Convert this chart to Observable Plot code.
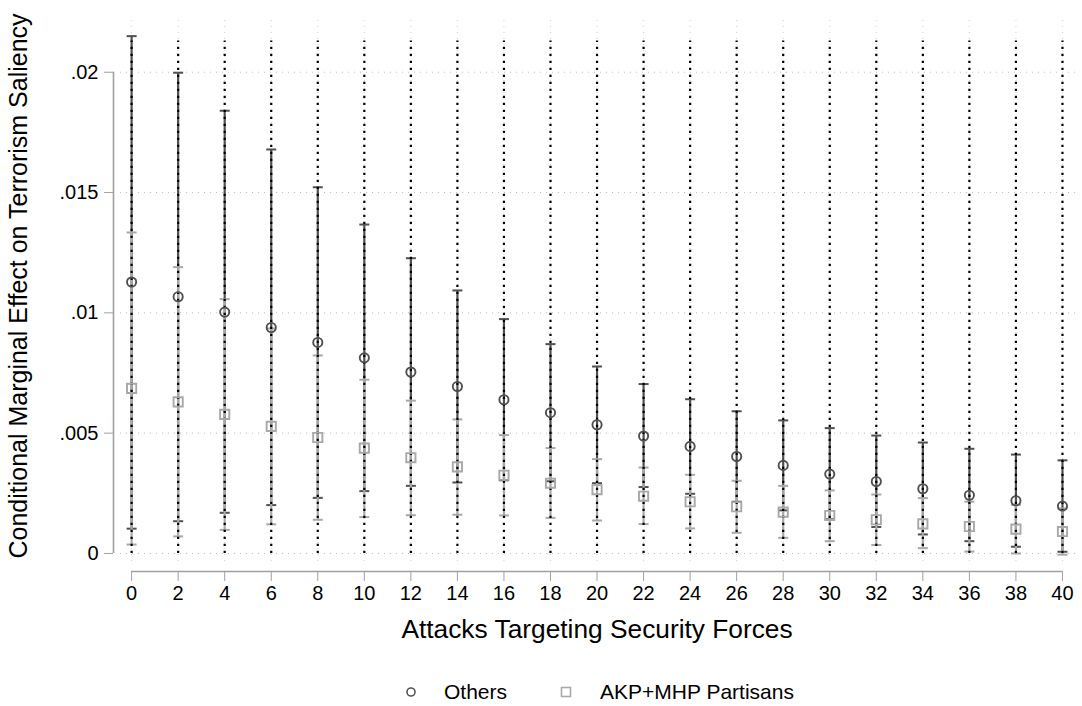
<!DOCTYPE html>
<html><head><meta charset="utf-8">
<script src="https://cdn.jsdelivr.net/npm/d3@7"></script>
<script src="https://cdn.jsdelivr.net/npm/@observablehq/plot@0.6"></script>
<style>
body{margin:0;background:#fff;font-family:"Liberation Sans",Arial,sans-serif;}
#wrap{position:relative;width:1082px;height:706px;overflow:hidden;}
#legend{position:absolute;left:0;top:677px;width:1082px;height:30px;}
.sym{position:absolute;top:8px;}
.lab{position:absolute;top:0;height:30px;line-height:30px;font-size:21px;color:#000;white-space:nowrap;}
</style></head><body>
<div id="wrap"><div id="chart"></div>
<div id="legend">
  <svg class="sym" style="left:404px" width="14" height="14"><circle cx="7" cy="7" r="4" fill="none" stroke="#555" stroke-width="1.6"/></svg>
  <span class="lab" style="left:444px">Others</span>
  <svg class="sym" style="left:559px" width="14" height="14"><rect x="2.5" y="2.5" width="9" height="9" fill="none" stroke="#aaa" stroke-width="1.6"/></svg>
  <span class="lab" style="left:600px">AKP+MHP Partisans</span>
</div></div>
<script>
// ---- data ----
const xValues = [0,2,4,6,8,10,12,14,16,18,20,22,24,26,28,30,32,34,36,38,40];
const xTickLabels = xValues.map(String);
const yTicks = [0, 0.005, 0.01, 0.015, 0.02];
const yTickLabels = ["0", ".005", ".01", ".015", ".02"];

const othersEst = [0.01128,0.01067,0.01003,0.00939,0.00877,0.00813,0.00754,0.00694,0.00639,0.00585,0.00535,0.00488,0.00445,0.00403,0.00366,0.00330,0.00299,0.00269,0.00242,0.00219,0.00197];
const othersHi  = [0.02150,0.01998,0.01840,0.01679,0.01522,0.01367,0.01227,0.01093,0.00974,0.00870,0.00777,0.00704,0.00641,0.00591,0.00553,0.00521,0.00490,0.00461,0.00435,0.00411,0.00387];
const othersLo  = [0.00103,0.00134,0.00169,0.00201,0.00231,0.00259,0.00281,0.00295,0.00304,0.00300,0.00292,0.00276,0.00248,0.00215,0.00179,0.00142,0.00110,0.00079,0.00051,0.00028,0.00007];

const akpEst = [0.00686,0.00630,0.00578,0.00528,0.00482,0.00438,0.00398,0.00360,0.00325,0.00292,0.00265,0.00238,0.00215,0.00194,0.00172,0.00158,0.00140,0.00123,0.00112,0.00101,0.00091];
const akpHi  = [0.01334,0.01190,0.01057,0.00935,0.00823,0.00722,0.00635,0.00557,0.00492,0.00438,0.00392,0.00357,0.00327,0.00302,0.00281,0.00262,0.00245,0.00230,0.00215,0.00202,0.00187];
const akpLo  = [0.00037,0.00071,0.00098,0.00121,0.00140,0.00151,0.00159,0.00161,0.00158,0.00148,0.00137,0.00122,0.00104,0.00086,0.00065,0.00051,0.00035,0.00022,0.00008,0.00000,-0.00005];

const refLineTop = 0.0213;
const xTitle = "Attacks Targeting Security Forces";
const yTitle = "Conditional Marginal Effect on Terrorism Saliency";

// ---- build tables ----
const others = xValues.map((x,i)=>({x, est: othersEst[i], lo: othersLo[i], hi: othersHi[i]}));
const akp = xValues.map((x,i)=>({x, est: akpEst[i], lo: akpLo[i], hi: akpHi[i]}));

const capSymbol = {draw(ctx, size){ const h = Math.sqrt(size/Math.PI); ctx.moveTo(-h,0); ctx.lineTo(h,0); }};

const xDomain = [-0.778, 40.56];
const yDomain = [-0.00075, 0.02215];
const darkC = "#505050", lightC = "#a8a8a8";

const caps = (data, key, color) => Plot.dot(data, {x:"x", y:key, symbol: capSymbol, r:5, stroke: color, strokeWidth:2, fill:"none"});

const chart = Plot.plot({
  width: 1082, height: 660,
  marginLeft: 113, marginRight: 7, marginTop: 20, marginBottom: 89,
  style: {fontFamily: '"Liberation Sans", Arial, sans-serif', background: "#fff", overflow: "visible"},
  x: {domain: xDomain},
  y: {domain: yDomain},
  marks: [
    Plot.ruleY(yTicks, {y: d=>d, stroke:"#bdbdbd", strokeWidth:1, strokeDasharray:"1,5", insetLeft:7}),
    Plot.ruleX(xValues, {x: d=>d, stroke:"#cfcfcf", strokeWidth:1, strokeDasharray:"1,5", insetBottom:6}),
    // error bars
    Plot.ruleX(others, {x:"x", y1:"lo", y2:"hi", stroke: darkC, strokeWidth:2.2}),
    caps(others, "lo", darkC), caps(others, "hi", darkC),
    Plot.ruleX(akp, {x:"x", y1:"lo", y2:"hi", stroke: lightC, strokeWidth:2.2}),
    caps(akp, "lo", lightC), caps(akp, "hi", lightC),
    // black dotted reference lines
    Plot.ruleX(xValues, {x: d=>d, y1: 0, y2: refLineTop, stroke:"#000", strokeWidth:2.2, strokeDasharray:"2.2,4.8"}),
    // markers
    Plot.dot(others, {x:"x", y:"est", r:4.6, stroke: darkC, strokeWidth:1.9, fill:"none"}),
    Plot.dot(akp, {x:"x", y:"est", symbol:"square", r:5.2, stroke: lightC, strokeWidth:1.9, fill:"none"}),
    // axes
    Plot.ruleX([xDomain[0]], {x: d=>d, y1: yTicks[0], y2: yTicks[yTicks.length-1], stroke:"#a0a0a0", strokeWidth:1.6}),
    Plot.ruleY([yDomain[0]], {y: d=>d, x1: xValues[0], x2: xValues[xValues.length-1], stroke:"#a0a0a0", strokeWidth:1.6}),
    Plot.axisY({ticks: yTicks, tickFormat: d => yTickLabels[yTicks.indexOf(d)], tickSize: 9, tickPadding: 6, stroke:"#a0a0a0", fill:"#000", fontSize: 20, label: null}),
    Plot.axisX({ticks: xValues, tickFormat: d => xTickLabels[xValues.indexOf(d)], tickSize: 10, tickPadding: 4, stroke:"#a0a0a0", fill:"#000", fontSize: 20, label: null}),
    // titles
    Plot.text([xTitle], {x: 20, frameAnchor:"bottom", text: d=>d, dy: 58, fontSize: 26.3, fill:"#000", textAnchor:"middle", lineAnchor:"middle"}),
    Plot.text([yTitle], {frameAnchor:"left", text: d=>d, rotate:-90, dx: -95, dy: -10, fontSize: 25, fill:"#000", textAnchor:"middle", lineAnchor:"middle"})
  ]
});
document.getElementById("chart").appendChild(chart);
</script>
</body></html>
